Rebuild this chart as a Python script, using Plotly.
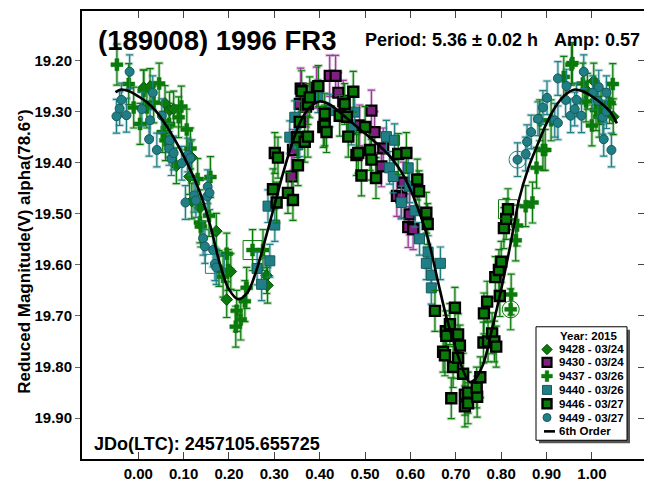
import plotly.graph_objects as go

FONT = "Liberation Sans, Arial, sans-serif"

# ---------------- data ----------------
S9428_PH = [0.012, 0.026, 0.059, 0.069, 0.078, 0.084, 0.113, 0.118, 0.118, 0.136, 0.172, 0.178, 0.195, 0.204, 0.283, 0.285,
            0.990, 1.004, 1.020, 1.047]
S9428_MAG = [19.253, 19.251, 19.284, 19.297, 19.295, 19.406, 19.427, 19.390, 19.475, 19.488, 19.534, 19.607, 19.668, 19.613, 19.621, 19.640,
             19.260, 19.240, 19.290, 19.310]

S9430_PH = [0.338, 0.341, 0.356, 0.358, 0.370, 0.393, 0.422, 0.435, 0.441, 0.452, 0.488, 0.514, 0.521, 0.536, 0.540,
            0.570, 0.580, 0.584, 0.595, 0.598, 0.606]
S9430_MAG = [19.427, 19.375, 19.285, 19.255, 19.290, 19.253, 19.230, 19.230, 19.263, 19.279, 19.327, 19.298, 19.340, 19.407, 19.372,
             19.465, 19.468, 19.439, 19.526, 19.501, 19.530]

S9437_PH = [-0.047, -0.021, -0.010, 0.004, 0.012, 0.019, 0.034, 0.046, 0.054, 0.060, 0.068, 0.089, 0.095, 0.107, 0.115,
            0.131, 0.136, 0.138, 0.156, 0.159, 0.187, 0.195, 0.198, 0.215, 0.217, 0.226, 0.235, 0.239, 0.252, 0.275,
            0.821, 0.822, 0.832, 0.835, 0.854, 0.869, 0.878, 0.885, 0.892, 0.897, 0.910, 0.938, 0.955, 0.957, 0.980,
            0.987, 1.000, 1.009, 1.016, 1.039, 1.046]
S9437_MAG = [19.208, 19.246, 19.292, 19.324, 19.259, 19.292, 19.282, 19.245, 19.340, 19.356, 19.324, 19.311, 19.290, 19.335, 19.372,
             19.432, 19.517, 19.525, 19.504, 19.428, 19.623, 19.578, 19.610, 19.721, 19.690, 19.707, 19.671, 19.645, 19.571, 19.571,
             19.687, 19.658, 19.552, 19.523, 19.485, 19.478, 19.410, 19.317, 19.375, 19.375, 19.317, 19.232, 19.208, 19.205, 19.245,
             19.280, 19.327, 19.297, 19.310, 19.283, 19.246]

S9440_PH = [0.262, 0.272, 0.286, 0.290, 0.301, 0.334, 0.345, 0.352, 0.356, 0.396, 0.422, 0.470, 0.477, 0.547, 0.554,
            0.562, 0.565, 0.580, 0.595, 0.598, 0.610, 0.620, 0.635, 0.639, 0.646, 0.646, 0.666]
S9440_MAG = [19.607, 19.638, 19.485, 19.592, 19.522, 19.350, 19.311, 19.365, 19.356, 19.270, 19.298, 19.333, 19.301, 19.349, 19.410,
             19.427, 19.356, 19.478, 19.410, 19.446, 19.494, 19.549, 19.597, 19.575, 19.620, 19.645, 19.597]

S9446_PH = [0.297, 0.301, 0.305, 0.308, 0.330, 0.341, 0.350, 0.352, 0.356, 0.360, 0.367, 0.374, 0.374, 0.378, 0.397,
            0.408, 0.411, 0.411, 0.415, 0.444, 0.455, 0.460, 0.463, 0.474, 0.481, 0.485, 0.492, 0.500, 0.511, 0.514,
            0.524, 0.573, 0.591, 0.615, 0.619, 0.635, 0.638,
            0.654, 0.672, 0.676, 0.678, 0.679, 0.687, 0.690, 0.694, 0.698, 0.705, 0.705, 0.709, 0.716, 0.720, 0.720,
            0.727, 0.727, 0.747, 0.746, 0.754, 0.761, 0.762, 0.769, 0.771, 0.780, 0.785, 0.787, 0.789, 0.795, 0.797,
            0.800, 0.806, 0.811, 0.815]
S9446_MAG = [19.452, 19.381, 19.478, 19.390, 19.459, 19.473, 19.350, 19.405, 19.320, 19.260, 19.359, 19.285, 19.349, 19.272, 19.250,
             19.330, 19.304, 19.327, 19.340, 19.308, 19.285, 19.310, 19.349, 19.261, 19.385, 19.381, 19.425, 19.330, 19.375, 19.394,
             19.430, 19.383, 19.381, 19.433, 19.456, 19.498, 19.520,
             19.690, 19.770, 19.777, 19.730, 19.739, 19.716, 19.861, 19.800, 19.684, 19.736, 19.782, 19.758, 19.813, 19.854, 19.877,
             19.850, 19.871, 19.858, 19.840, 19.820, 19.752, 19.695, 19.672, 19.750, 19.734, 19.750, 19.624, 19.760, 19.610, 19.661,
             19.594, 19.528, 19.510, 19.491]

S9449_PH = [-0.048, -0.041, -0.037, -0.026, -0.019, 0.008, 0.026, 0.024, 0.032, 0.041, 0.052, 0.068, 0.069, 0.073, 0.078,
            0.096, 0.104, 0.109, 0.115, 0.123, 0.127, 0.143, 0.147, 0.152, 0.153, 0.157, 0.165, 0.169, 0.172,
            0.836, 0.854, 0.857, 0.866, 0.881, 0.892, 0.901, 0.918, 0.925, 0.925, 0.942, 0.944, 0.953, 0.962, 0.966,
            0.977, 0.982, 1.002, 1.013, 1.015, 1.024, 1.026, 1.032, 1.032, 1.043]
S9449_MAG = [19.309, 19.294, 19.277, 19.307, 19.222, 19.295, 19.317, 19.354, 19.263, 19.375, 19.308, 19.372, 19.356, 19.392, 19.381,
             19.401, 19.478, 19.385, 19.391, 19.464, 19.474, 19.548, 19.564, 19.466, 19.447, 19.459, 19.571, 19.598, 19.605,
             19.394, 19.383, 19.359, 19.340, 19.314, 19.292, 19.273, 19.317, 19.322, 19.235, 19.277, 19.250, 19.308, 19.295, 19.277,
             19.308, 19.222, 19.263, 19.279, 19.252, 19.311, 19.354, 19.263, 19.300, 19.375]

ERR_9428 = 0.035
ERR_9430 = 0.040
ERR_9437 = 0.040
ERR_9440 = 0.032
ERR_9446 = 0.040
ERR_9449 = 0.033

# highlighted (boxed / circled) observations
RING_PH = [0.836, 0.821]
RING_MAG = [19.394, 19.687]
RING_COL = ["#1f7f85", "#0a7a0a"]
BOX_PH = [0.815, 0.252, 0.169]
BOX_MAG = [19.491, 19.571, 19.598]
BOX_COL = ["#0a7a0a", "#0a7a0a", "#1f7f85"]

FIT_PH = [-0.05, -0.04, -0.02, 0.0, 0.02, 0.04, 0.06, 0.08, 0.10, 0.12, 0.14, 0.16, 0.18, 0.20, 0.22, 0.24, 0.26, 0.28,
          0.30, 0.32, 0.34, 0.36, 0.38, 0.40, 0.42, 0.44, 0.46, 0.48, 0.50, 0.52, 0.54, 0.56, 0.58, 0.60, 0.62, 0.64,
          0.66, 0.68, 0.70, 0.72, 0.73, 0.74, 0.76, 0.78, 0.80, 0.82, 0.84, 0.86, 0.88, 0.90, 0.92, 0.94, 0.96, 0.98,
          1.00, 1.02, 1.04, 1.055]
FIT_MAG = [19.262, 19.257, 19.260, 19.270, 19.282, 19.300, 19.325, 19.354, 19.387, 19.424, 19.468, 19.527, 19.598, 19.648,
           19.667, 19.655, 19.612, 19.550, 19.484, 19.418, 19.360, 19.315, 19.290, 19.280, 19.285, 19.298, 19.313, 19.328,
           19.343, 19.358, 19.374, 19.393, 19.418, 19.453, 19.498, 19.553, 19.630, 19.705, 19.765, 19.815, 19.829, 19.826,
           19.795, 19.725, 19.648, 19.562, 19.470, 19.410, 19.365, 19.323, 19.290, 19.268, 19.257, 19.260, 19.270, 19.283,
           19.300, 19.323]

SESSION_NAMES = ["9428 - 03/24", "9430 - 03/24", "9437 - 03/26", "9440 - 03/26", "9446 - 03/27", "9449 - 03/27"]
FIT_NAME = "6th Order"
LEGEND_TITLE = "Year: 2015"

X_TICKS = [0.0, 0.1, 0.2, 0.3, 0.4, 0.5, 0.6, 0.7, 0.8, 0.9, 1.0]
X_LABELS = ["0.00", "0.10", "0.20", "0.30", "0.40", "0.50", "0.60", "0.70", "0.80", "0.90", "1.00"]
Y_TICKS = [19.2, 19.3, 19.4, 19.5, 19.6, 19.7, 19.8, 19.9]
Y_LABELS = ["19.20", "19.30", "19.40", "19.50", "19.60", "19.70", "19.80", "19.90"]

# ---------------- styles ----------------
GREEN = "#0a7a0a"
TEAL = "#1f7f85"
PURPLE = "#7f1f80"

STYLES = [
    dict(symbol="diamond", size=9, color=GREEN, lcol="#064d06", lw=1, ecol=GREEN, glow="rgba(10,122,10,0.25)"),
    dict(symbol="square", size=10, color=PURPLE, lcol="black", lw=2.2, ecol="#9a3a9a", glow="rgba(140,40,140,0.25)"),
    dict(symbol="cross", size=10, color=GREEN, lcol=GREEN, lw=0.5, ecol=GREEN, glow="rgba(10,122,10,0.25)"),
    dict(symbol="square", size=10, color=TEAL, lcol="#155a5e", lw=1, ecol=TEAL, glow="rgba(31,127,133,0.25)"),
    dict(symbol="square", size=10, color=GREEN, lcol="black", lw=2.4, ecol=GREEN, glow="rgba(10,122,10,0.25)"),
    dict(symbol="circle", size=9, color=TEAL, lcol="#155a5e", lw=1, ecol=TEAL, glow="rgba(31,127,133,0.25)"),
]
SESSIONS = [(S9428_PH, S9428_MAG, ERR_9428), (S9430_PH, S9430_MAG, ERR_9430), (S9437_PH, S9437_MAG, ERR_9437),
            (S9440_PH, S9440_MAG, ERR_9440), (S9446_PH, S9446_MAG, ERR_9446), (S9449_PH, S9449_MAG, ERR_9449)]

# plot-area placement in window pixels (page body adds an 8px offset)
BODY = 8
PL, PR, PT, PB = 82, 645, 9, 463


def fx(px):
    return (px - PL) / (PR - PL)


def fy(py):
    return (PB - py) / (PB - PT)


fig = go.Figure()

for (ph, mag, err), st in zip(SESSIONS, STYLES):
    fig.add_trace(go.Scatter(
        x=ph, y=mag, mode="markers", showlegend=False, hoverinfo="skip",
        marker=dict(size=1, opacity=0),
        error_y=dict(type="data", array=[err] * len(ph), color=st["glow"], thickness=3.2, width=4.5),
    ))

for (ph, mag, err), st, name in zip(SESSIONS, STYLES, SESSION_NAMES):
    fig.add_trace(go.Scatter(
        x=ph, y=mag, mode="markers", name=name, showlegend=False,
        marker=dict(symbol=st["symbol"], size=st["size"], color=st["color"],
                    line=dict(color=st["lcol"], width=st["lw"])),
        error_y=dict(type="data", array=[err] * len(ph), color=st["ecol"], thickness=1.2, width=3.5),
    ))

fig.add_trace(go.Scatter(x=RING_PH, y=RING_MAG, mode="markers", showlegend=False, hoverinfo="skip",
                         marker=dict(symbol="circle-open", size=17, color=RING_COL, line=dict(width=1))))
fig.add_trace(go.Scatter(x=BOX_PH, y=BOX_MAG, mode="markers", showlegend=False, hoverinfo="skip",
                         marker=dict(symbol="square-open", size=19, color=BOX_COL, line=dict(width=1))))

fig.add_trace(go.Scatter(x=FIT_PH, y=FIT_MAG, mode="lines", name=FIT_NAME, showlegend=False,
                         line=dict(color="black", width=2.6, shape="spline")))

# dummy trace for right-hand axis with inside ticks
fig.add_trace(go.Scatter(x=[None], y=[None], yaxis="y2", showlegend=False, hoverinfo="skip"))

# ---------------- legend box (drawn in plot-fraction coordinates) ----------------
LEG_L, LEG_R, LEG_T, LEG_B = 536, 627, 329, 444
ROW_Y = [352, 365, 379, 393, 407, 421, 435]
SYM_X = 547
TXT_X = 557

fig.add_shape(type="rect", xref="paper", yref="paper", x0=fx(LEG_L + 3), x1=fx(LEG_R + 3),
              y0=fy(LEG_B + 3), y1=fy(LEG_T + 3), fillcolor="#555555", line=dict(width=0), layer="below")
fig.add_shape(type="rect", xref="paper", yref="paper", x0=fx(LEG_L), x1=fx(LEG_R),
              y0=fy(LEG_B), y1=fy(LEG_T), fillcolor="white", line=dict(color="black", width=1), layer="below")

for i, st in enumerate(STYLES):
    fig.add_trace(go.Scatter(
        x=[fx(SYM_X)], y=[fy(ROW_Y[i])], xaxis="x2", yaxis="y3", mode="markers", showlegend=False,
        hoverinfo="skip",
        marker=dict(symbol=st["symbol"], size=st["size"] - 1, color=st["color"],
                    line=dict(color=st["lcol"], width=st["lw"])),
    ))
fig.add_trace(go.Scatter(x=[fx(544), fx(555)], y=[fy(ROW_Y[6]), fy(ROW_Y[6])], xaxis="x2", yaxis="y3",
                         mode="lines", showlegend=False, hoverinfo="skip",
                         line=dict(color="black", width=2.6)))

LEG_FONT = dict(family=FONT, size=11.5, color="black")
fig.add_annotation(text="<b>" + LEGEND_TITLE + "</b>", xref="paper", yref="paper", x=fx(589), y=fy(338),
                   xanchor="center", yanchor="middle", showarrow=False, font=LEG_FONT)
for i, name in enumerate(SESSION_NAMES + [FIT_NAME]):
    fig.add_annotation(text="<b>" + name + "</b>", xref="paper", yref="paper", x=fx(TXT_X), y=fy(ROW_Y[i]),
                       xanchor="left", yanchor="middle", showarrow=False, font=LEG_FONT)

tickfont = dict(family=FONT, size=15, color="black", weight="bold")

fig.update_layout(
    width=652 - BODY, height=483 - BODY,
    margin=dict(l=PL - BODY, r=652 - PR, t=PT - BODY, b=483 - PB),
    paper_bgcolor="white", plot_bgcolor="white",
    font=dict(family=FONT, color="black"),
    showlegend=False,
    xaxis=dict(range=[-0.124, 1.117], tickvals=X_TICKS, ticktext=X_LABELS, ticks="inside", ticklen=7,
               tickcolor="#444", tickwidth=1, showline=True, linecolor="black", linewidth=2, mirror="ticks",
               showgrid=False, zeroline=False, tickfont=tickfont),
    yaxis=dict(range=[19.98, 19.103], tickvals=Y_TICKS, ticktext=Y_LABELS, ticks="outside", ticklen=5,
               tickcolor="#666", tickwidth=1, showline=True, linecolor="black", linewidth=2, mirror=True,
               showgrid=False, zeroline=False, tickfont=tickfont),
    yaxis2=dict(range=[19.98, 19.103], overlaying="y", side="right", tickvals=Y_TICKS, ticks="inside",
                ticklen=7, tickcolor="#444", showticklabels=False, showline=False, showgrid=False,
                zeroline=False),
    xaxis2=dict(range=[0, 1], overlaying="x", visible=False, fixedrange=True),
    yaxis3=dict(range=[0, 1], overlaying="y", visible=False, fixedrange=True),
)

fig.add_annotation(text="<b>(189008) 1996 FR3</b>", xref="paper", yref="paper", x=fx(95.5), y=fy(39),
                   xanchor="left", yanchor="middle", showarrow=False, font=dict(family=FONT, size=27.5))
fig.add_annotation(text="<b>Period: 5.36 ± 0.02 h</b>", xref="paper", yref="paper", x=fx(363), y=fy(38.5),
                   xanchor="left", yanchor="middle", showarrow=False, font=dict(family=FONT, size=18))
fig.add_annotation(text="<b>Amp: 0.57</b>", xref="paper", yref="paper", x=fx(552), y=fy(38.5),
                   xanchor="left", yanchor="middle", showarrow=False, font=dict(family=FONT, size=18))
fig.add_annotation(text="<b>JDo(LTC): 2457105.655725</b>", xref="paper", yref="paper", x=fx(92), y=fy(448),
                   xanchor="left", yanchor="middle", showarrow=False, font=dict(family=FONT, size=18))
fig.add_annotation(text="<b>Reduced Magnitude(V) alpha(78.6°)</b>", xref="paper", yref="paper", x=fx(25),
                   y=fy(253), xanchor="center", yanchor="middle", textangle=-90, showarrow=False,
                   font=dict(family=FONT, size=17))

fig.write_html("out.html")
